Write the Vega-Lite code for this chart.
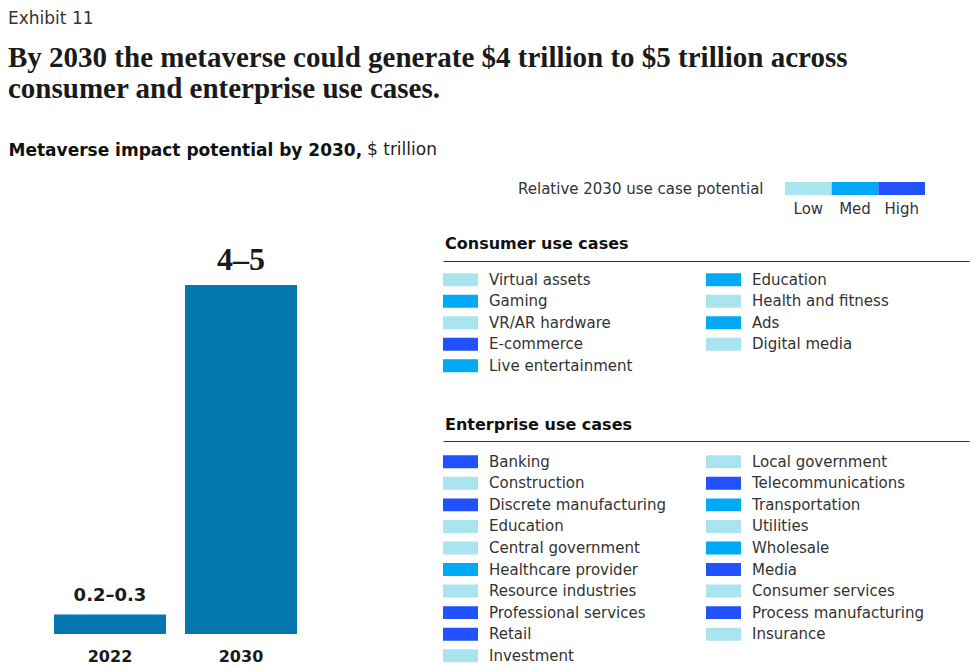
{
  "$schema": "https://vega.github.io/schema/vega-lite/v6.json",
  "background": "white",
  "padding": {"left": 8, "top": 10, "right": 5, "bottom": 2},
  "title": {
    "text": "Exhibit 11",
    "subtitle": ["By 2030 the metaverse could generate $4 trillion to $5 trillion across", "consumer and enterprise use cases."],
    "anchor": "start",
    "frame": "bounds",
    "font": "DejaVu Sans",
    "fontSize": 17,
    "fontWeight": "normal",
    "color": "#333333",
    "subtitleFont": "Liberation Serif",
    "subtitleFontSize": 29,
    "subtitleFontWeight": "bold",
    "subtitleColor": "#1a1a1a",
    "subtitleLineHeight": 31,
    "subtitlePadding": 16,
    "offset": 36
  },
  "config": {
    "view": {"stroke": null},
    "font": "DejaVu Sans",
    "text": {"color": "#333333"}
  },
  "datasets": {
    "bars": [
      {"year": "2022", "value": 0.25, "label": "0.2–0.3"},
      {"year": "2030", "value": 4.5, "label": "4–5"}
    ],
    "key": [
      {"level": "Low"},
      {"level": "Med"},
      {"level": "High"}
    ],
    "consumer": [
      {"col": 0, "row": 0, "name": "Virtual assets", "level": "Low"},
      {"col": 0, "row": 1, "name": "Gaming", "level": "Med"},
      {"col": 0, "row": 2, "name": "VR/AR hardware", "level": "Low"},
      {"col": 0, "row": 3, "name": "E-commerce", "level": "High"},
      {"col": 0, "row": 4, "name": "Live entertainment", "level": "Med"},
      {"col": 1, "row": 0, "name": "Education", "level": "Med"},
      {"col": 1, "row": 1, "name": "Health and fitness", "level": "Low"},
      {"col": 1, "row": 2, "name": "Ads", "level": "Med"},
      {"col": 1, "row": 3, "name": "Digital media", "level": "Low"}
    ],
    "enterprise": [
      {"col": 0, "row": 0, "name": "Banking", "level": "High"},
      {"col": 0, "row": 1, "name": "Construction", "level": "Low"},
      {"col": 0, "row": 2, "name": "Discrete manufacturing", "level": "High"},
      {"col": 0, "row": 3, "name": "Education", "level": "Low"},
      {"col": 0, "row": 4, "name": "Central government", "level": "Low"},
      {"col": 0, "row": 5, "name": "Healthcare provider", "level": "Med"},
      {"col": 0, "row": 6, "name": "Resource industries", "level": "Low"},
      {"col": 0, "row": 7, "name": "Professional services", "level": "High"},
      {"col": 0, "row": 8, "name": "Retail", "level": "High"},
      {"col": 0, "row": 9, "name": "Investment", "level": "Low"},
      {"col": 1, "row": 0, "name": "Local government", "level": "Low"},
      {"col": 1, "row": 1, "name": "Telecommunications", "level": "High"},
      {"col": 1, "row": 2, "name": "Transportation", "level": "Med"},
      {"col": 1, "row": 3, "name": "Utilities", "level": "Low"},
      {"col": 1, "row": 4, "name": "Wholesale", "level": "Med"},
      {"col": 1, "row": 5, "name": "Media", "level": "High"},
      {"col": 1, "row": 6, "name": "Consumer services", "level": "Low"},
      {"col": 1, "row": 7, "name": "Process manufacturing", "level": "High"},
      {"col": 1, "row": 8, "name": "Insurance", "level": "Low"}
    ]
  },
  "bounds": "flush",
  "spacing": 146,
  "hconcat": [
    {
      "width": 243,
      "height": 452,
      "data": {"name": "bars"},
      "title": {
        "text": "$ trillion",
        "anchor": "start",
        "font": "DejaVu Sans",
        "fontSize": 17,
        "fontWeight": "normal",
        "color": "#222222",
        "offset": 0,
        "dx": 359,
        "dy": 18
      },
      "encoding": {
        "x": {
          "field": "year",
          "type": "ordinal",
          "scale": {"paddingInner": 0.145, "paddingOuter": 0},
          "axis": {
            "title": null,
            "labelAngle": 0,
            "labelFont": "DejaVu Sans",
            "labelFontSize": 16,
            "labelFontWeight": "bold",
            "labelColor": "#1a1a1a",
            "ticks": false,
            "domain": false,
            "labelPadding": 14
          }
        },
        "y": {
          "field": "value",
          "type": "quantitative",
          "scale": {"domain": [0, 5.828]},
          "axis": {
            "labels": false,
            "ticks": false,
            "domain": false,
            "grid": false,
            "title": "Metaverse impact potential by 2030,",
            "titleAngle": 0,
            "titleAlign": "left",
            "titleBaseline": "middle",
            "titleX": -46,
            "titleY": -32,
            "titleFont": "DejaVu Sans",
            "titleFontSize": 17,
            "titleFontWeight": "bold",
            "titleColor": "#111111"
          }
        }
      },
      "layer": [
        {"mark": {"type": "bar", "color": "#0377B0"}},
        {
          "transform": [{"filter": "datum.year == '2022'"}],
          "mark": {"type": "text", "font": "DejaVu Sans", "fontWeight": "bold", "fontSize": 18, "baseline": "alphabetic", "dy": -14, "color": "#1a1a1a"},
          "encoding": {"text": {"field": "label"}}
        },
        {
          "transform": [{"filter": "datum.year == '2030'"}],
          "mark": {"type": "text", "font": "Liberation Serif", "fontWeight": "bold", "fontSize": 32, "baseline": "alphabetic", "dy": -15, "color": "#1a1a1a"},
          "encoding": {"text": {"field": "label"}}
        }
      ]
    },
    {
      "bounds": "flush",
      "spacing": 74,
      "vconcat": [
        {
          "width": 482,
          "height": 13,
          "data": {"name": "key"},
          "mark": {"type": "rect"},
          "encoding": {
            "x": {
              "field": "level",
              "type": "ordinal",
              "sort": ["Low", "Med", "High"],
              "scale": {"range": [342, 482], "paddingInner": 0, "paddingOuter": 0},
              "axis": {"title": null, "ticks": false, "domain": false, "labelAngle": 0, "labelFontSize": 15, "labelColor": "#333333", "labelPadding": 6}
            },
            "y": {
              "datum": "k",
              "type": "nominal",
              "axis": {
                "labels": false,
                "ticks": false,
                "domain": false,
                "title": "Relative 2030 use case potential",
                "titleAngle": 0,
                "titleX": 320,
                "titleY": 6.5,
                "titleAlign": "right",
                "titleBaseline": "middle",
                "titleFontWeight": "normal",
                "titleFontSize": 15,
                "titleColor": "#333333"
              }
            },
            "color": {
              "field": "level",
              "type": "nominal",
              "scale": {"domain": ["Low", "Med", "High"], "range": ["#AAE4EF", "#00A9F4", "#2251FF"]},
              "legend": null
            }
          }
        },
        {
          "width": 526,
          "height": 107.5,
          "data": {"name": "consumer"},
          "title": {"text": "Consumer use cases", "anchor": "start", "fontSize": 16, "fontWeight": "bold", "color": "#111111", "offset": 9, "dx": 2},
          "encoding": {
            "x": {
              "field": "col",
              "type": "ordinal",
              "bandPosition": 0,
              "scale": {"type": "band", "paddingInner": 0, "paddingOuter": 0},
              "axis": {"orient": "top", "labels": false, "ticks": false, "title": null, "domain": true, "domainColor": "#333333", "domainWidth": 1.2, "offset": 8}
            },
            "y": {
              "field": "row",
              "type": "ordinal",
              "scale": {"type": "band", "paddingInner": 0, "paddingOuter": 0},
              "axis": null
            }
          },
          "layer": [
            {
              "mark": {"type": "point", "shape": "M0,-0.371L2,-0.371L2,0.371L0,0.371Z", "size": 1225, "filled": true, "opacity": 1, "strokeWidth": 0},
              "encoding": {"color": {"field": "level", "type": "nominal", "scale": {"domain": ["Low", "Med", "High"], "range": ["#AAE4EF", "#00A9F4", "#2251FF"]}, "legend": null}}
            },
            {
              "mark": {"type": "text", "align": "left", "baseline": "middle", "dx": 46, "fontSize": 15, "color": "#333333"},
              "encoding": {"text": {"field": "name"}}
            }
          ]
        },
        {
          "width": 526,
          "height": 215.5,
          "data": {"name": "enterprise"},
          "title": {"text": "Enterprise use cases", "anchor": "start", "fontSize": 16, "fontWeight": "bold", "color": "#111111", "offset": 8, "dx": 2},
          "encoding": {
            "x": {
              "field": "col",
              "type": "ordinal",
              "bandPosition": 0,
              "scale": {"type": "band", "paddingInner": 0, "paddingOuter": 0},
              "axis": {"orient": "top", "labels": false, "ticks": false, "title": null, "domain": true, "domainColor": "#333333", "domainWidth": 1.2, "offset": 10}
            },
            "y": {
              "field": "row",
              "type": "ordinal",
              "scale": {"type": "band", "paddingInner": 0, "paddingOuter": 0},
              "axis": null
            }
          },
          "layer": [
            {
              "mark": {"type": "point", "shape": "M0,-0.371L2,-0.371L2,0.371L0,0.371Z", "size": 1225, "filled": true, "opacity": 1, "strokeWidth": 0},
              "encoding": {"color": {"field": "level", "type": "nominal", "scale": {"domain": ["Low", "Med", "High"], "range": ["#AAE4EF", "#00A9F4", "#2251FF"]}, "legend": null}}
            },
            {
              "mark": {"type": "text", "align": "left", "baseline": "middle", "dx": 46, "fontSize": 15, "color": "#333333"},
              "encoding": {"text": {"field": "name"}}
            }
          ]
        }
      ]
    }
  ]
}
